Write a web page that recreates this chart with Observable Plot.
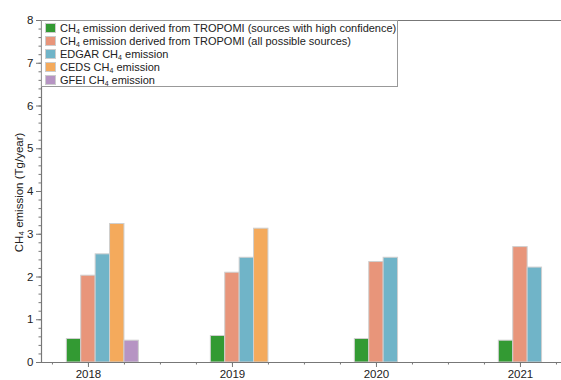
<!DOCTYPE html>
<html>
<head>
<meta charset="utf-8">
<script src="https://cdn.jsdelivr.net/npm/d3@7"></script>
<script src="https://cdn.jsdelivr.net/npm/@observablehq/plot@0.6"></script>
<style>
  body { margin: 0; background: #fff; }
  #wrap { position: relative; width: 561px; height: 380px; font-family: "Liberation Sans", Arial, sans-serif; }
  #legend { position: absolute; left: 41px; top: 20px; width: 357px; height: 67px; border: 1px solid #999; background: #fff; box-sizing: border-box; padding: 1px 0 0 3px; }
  .row { display: flex; align-items: center; height: 12.9px; font-size: 11px; color: #222; white-space: nowrap; }
  .sw { width: 11px; height: 10px; margin-right: 4px; box-sizing: border-box; border: 1px solid #ccc; flex: none; }
  sub { font-size: 7px; vertical-align: -2px; line-height: 0; }
</style>
</head>
<body>
<div id="wrap"></div>
<script>
const years = [2018, 2019, 2020, 2021];
const seriesNames = [
  "CH<sub>4</sub> emission derived from TROPOMI (sources with high confidence)",
  "CH<sub>4</sub> emission derived from TROPOMI (all possible sources)",
  "EDGAR CH<sub>4</sub> emission",
  "CEDS CH<sub>4</sub> emission",
  "GFEI CH<sub>4</sub> emission"
];
const colors = ["#339a33", "#e8957a", "#70b4c8", "#f4aa5c", "#b694c3"];
const offsets = [-0.1, 0, 0.1, 0.2, 0.3];
const tropomiHigh = [0.55, 0.62, 0.55, 0.51];
const tropomiAll = [2.03, 2.10, 2.35, 2.70];
const edgar = [2.53, 2.45, 2.45, 2.22];
const ceds = [3.24, 3.13, null, null];
const gfei = [0.51, null, null, null];
const series = [tropomiHigh, tropomiAll, edgar, ceds, gfei];

const rows = [];
series.forEach((vals, s) => vals.forEach((v, i) => {
  if (v != null) rows.push({year: years[i], s, value: v});
}));

const barW = 0.1;
const xDomain = [2017.674, 2021.285];
const axisColor = "#777";
const noLabel = () => "";

const plot = Plot.plot({
  width: 561,
  height: 380,
  marginLeft: 41,
  marginRight: 0,
  marginTop: 20,
  marginBottom: 18,
  style: {fontFamily: "Liberation Sans, Arial, sans-serif", fontSize: "11.5px", color: "#222", background: "#fff"},
  x: {domain: xDomain, axis: null},
  y: {domain: [0, 8], axis: null},
  marks: [
    Plot.rectY(rows, {
      x1: d => d.year + offsets[d.s] - barW / 2,
      x2: d => d.year + offsets[d.s] + barW / 2,
      y1: 0,
      y2: "value",
      fill: d => colors[d.s],
      stroke: "#cfcfcf",
      strokeWidth: 1
    }),
    Plot.ruleY([0], {stroke: axisColor, strokeWidth: 1.2}),
    Plot.ruleY([8], {stroke: axisColor, strokeWidth: 1.2}),
    Plot.ruleX([xDomain[0]], {stroke: axisColor, strokeWidth: 1.2}),
    Plot.axisY({ticks: d3.range(0, 8.001, 0.2), tickSize: 2.5, tickFormat: noLabel, stroke: axisColor, label: null}),
    Plot.axisY({ticks: d3.range(0, 9, 1), tickSize: 5, tickPadding: 3, stroke: axisColor, tickFormat: d3.format("d"), fontSize: 11.5, label: null}),
    Plot.axisX({ticks: d3.range(2017.75, 2021.3, 0.25), tickSize: 2.5, tickFormat: noLabel, stroke: axisColor, label: null}),
    Plot.axisX({ticks: years, tickSize: 5, tickPadding: 2, stroke: axisColor, tickFormat: d3.format("d"), fontSize: 11.5, label: null}),
    Plot.text(["CH₄ emission (Tg/year)"], {frameAnchor: "left", dx: -22, dy: 1, rotate: -90, fontSize: 11.5, fill: "#222", textAnchor: "middle"})
  ]
});

const wrap = document.getElementById("wrap");
wrap.appendChild(plot);
const legend = document.createElement("div");
legend.id = "legend";
seriesNames.forEach((name, i) => {
  const r = document.createElement("div");
  r.className = "row";
  r.innerHTML = `<span class="sw" style="background:${colors[i]}"></span><span>${name}</span>`;
  legend.appendChild(r);
});
wrap.appendChild(legend);
</script>
</body>
</html>
